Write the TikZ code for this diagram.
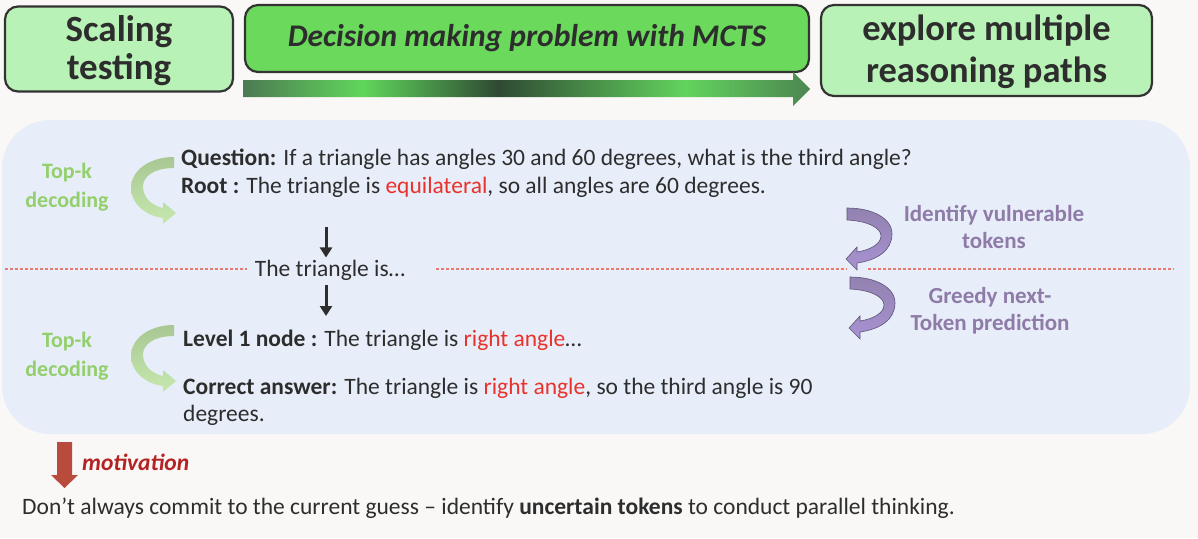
\documentclass[tikz,border=0pt]{standalone}
\usepackage{fontspec}
\setmainfont{Carlito}
\usetikzlibrary{arrows.meta}
\definecolor{pagebg}{HTML}{F9F8F6}
\definecolor{panelbg}{HTML}{E8EEF9}
\definecolor{boxlight}{HTML}{B8F2B6}
\definecolor{boxmid}{HTML}{6BD95B}
\definecolor{boxborder}{HTML}{333333}
\definecolor{textdark}{HTML}{2D2D2D}
\definecolor{wordred}{HTML}{E8322B}
\definecolor{topkgreen}{HTML}{93CF6C}
\definecolor{purpletext}{HTML}{8E7BA8}
\definecolor{dashred}{HTML}{E97A72}
\definecolor{redarrow}{HTML}{B84B3C}
\definecolor{motivred}{HTML}{B42222}
\definecolor{gA}{HTML}{4C7A52}
\definecolor{gB}{HTML}{60D65C}
\definecolor{gC}{HTML}{2F4A33}
\definecolor{gD}{HTML}{62D35E}
\definecolor{gE}{HTML}{4C8650}
\definecolor{curveGtop}{HTML}{A8C792}
\definecolor{curveGbot}{HTML}{C6E8AE}
\definecolor{curvePtop}{HTML}{9282B0}
\definecolor{curvePbot}{HTML}{A892D2}
\definecolor{curvePedge}{HTML}{5E5478}
\pgfdeclarehorizontalshading{barshade}{100bp}{color(0bp)=(gA); color(25bp)=(gA); color(35.5bp)=(gB); color(47.5bp)=(gC); color(64bp)=(gD); color(75bp)=(gE); color(100bp)=(gE)}
\tikzset{
  topbox/.style={draw=boxborder, line width=2.2pt, rounded corners=13pt, align=center, text=textdark, inner sep=0pt},
  bodytext/.style={anchor=base west, text=textdark, font=\fontsize{23.5}{27}\selectfont, inner sep=0pt, align=left},
  topk/.style={text=topkgreen, font=\fontsize{22}{29}\selectfont\bfseries, align=center, inner sep=0pt},
  purplelabel/.style={text=purpletext, font=\fontsize{23}{27}\selectfont\bfseries, align=center, inner sep=0pt},
  downarrow/.style={-{Triangle[length=10pt,width=12pt]}, line width=3pt, draw=textdark},
  reddash/.style={draw=dashred, line width=1.3pt, dash pattern=on 3pt off 2pt},
  greencurve/.style={top color=curveGtop, bottom color=curveGbot},
  purplecurve/.style={top color=curvePtop, bottom color=curvePbot, draw=curvePedge, line width=0.6pt}
}
\begin{document}
\begin{tikzpicture}[x=1pt,y=-1pt]
\useasboundingbox (0,0) rectangle (1198,538);
\fill[pagebg] (0,0) rectangle (1198,538);

% top row
\node[topbox, fill=boxlight, minimum width=228pt, minimum height=85pt,
      font=\fontsize{37}{38}\selectfont\bfseries] (scaling) at (119,49) {\rule{0pt}{30pt}Scaling\\testing};
\node[topbox, fill=boxmid, minimum width=564pt, minimum height=67pt,
      font=\fontsize{31.5}{34}\selectfont\bfseries\itshape] (decision) at (527,38.5) {Decision making problem with MCTS};
\node[topbox, fill=boxlight, minimum width=331pt, minimum height=91pt,
      font=\fontsize{36.5}{42}\selectfont\bfseries] (explore) at (986.5,50.5) {\rule{0pt}{29pt}explore multiple\\reasoning paths};
\shade[shading=barshade] (243,80) -- (793,80) -- (793,72) -- (810,89) -- (793,106) -- (793,97) -- (243,97) -- cycle;

% panel
\node[fill=panelbg, rounded corners=48pt, minimum width=1188pt, minimum height=314pt, inner sep=0pt] (panel) at (596,277) {};

% dashed separators
\coordinate (d1a) at (5,269);   \coordinate (d1b) at (247,269);
\coordinate (d2a) at (436,269); \coordinate (d2b) at (847,269);
\coordinate (d3a) at (868,269); \coordinate (d3b) at (1174,269);
\draw[reddash] (d1a) -- (d1b);
\draw[reddash] (d2a) -- (d2b);
\draw[reddash] (d3a) -- (d3b);

% left labels and curves
\node[topk] (topk1) at (67,187) {Top-k\\decoding};
\node[topk] (topk2) at (67,356) {Top-k\\decoding};
\foreach \dy in {0,168}{
  \begin{scope}[shift={(0,\dy)}]
  \path[greencurve] (174,157) -- (174,168)
    .. controls (152,168) and (142,178) .. (143,188)
    .. controls (144,199) and (153,206) .. (163,208)
    -- (163,202) -- (176,213) -- (163,224) -- (163,218)
    .. controls (146,216) and (131,204) .. (131,188)
    .. controls (131,170) and (150,157) .. (174,157) -- cycle;
  \end{scope}
}

% right labels and curves
\node[purplelabel] (ident) at (994,227) {Identify vulnerable\\tokens};
\node[purplelabel] (greedy) at (990,311) {Greedy next-\\Token prediction};
\foreach \dx/\dy in {0/0,3/69}{
  \begin{scope}[shift={(\dx,\dy)}]
  \path[purplecurve] (847,208) -- (847,220)
    .. controls (868,221) and (881,228) .. (881,236)
    .. controls (881,244) and (870,250) .. (857,252)
    -- (857,247) -- (846,259) -- (857,270) -- (857,263)
    .. controls (878,260) and (892,250) .. (892,234)
    .. controls (892,218) and (872,208) .. (847,208) -- cycle;
  \end{scope}
}

% texts
\node[bodytext] (question) at (181,165) {\textbf{Question:} If a triangle has angles 30 and 60 degrees, what is the third angle?};
\node[bodytext] (root) at (181,193) {\textbf{Root :} The triangle is \textcolor{wordred}{equilateral}, so all angles are 60 degrees.};
\node[text=textdark, font=\fontsize{23.5}{28}\selectfont, inner xsep=0pt, inner ysep=2pt, anchor=base] (mid) at (330,276) {The triangle is…};
\node[bodytext] (level1) at (183,346) {\textbf{Level 1 node :} The triangle is \textcolor{wordred}{right angle}…};
\node[bodytext] (correct) at (183,421) {\textbf{Correct answer:} The triangle is \textcolor{wordred}{right angle}, so the third angle is 90\\degrees.};

% black arrows
\coordinate (a1s) at (326,227);
\coordinate (a2e) at (326,316);
\draw[downarrow] (a1s) -- (mid.north -| a1s);
\draw[downarrow] ([yshift=-3pt]mid.south -| a1s) -- (a2e);

% motivation
\path[fill=redarrow] (57,442) -- (72,442) -- (72,475) -- (78,475) -- (64.5,488) -- (51,475) -- (57,475) -- cycle;
\node[anchor=base west, inner sep=0pt, text=motivred, font=\fontsize{23.5}{26}\selectfont\bfseries\itshape] (motiv) at (82,470) {motivation};
\node[bodytext] (bottom) at (22,514) {Don’t always commit to the current guess – identify \textbf{uncertain tokens} to conduct parallel thinking.};
\end{tikzpicture}
\end{document}
